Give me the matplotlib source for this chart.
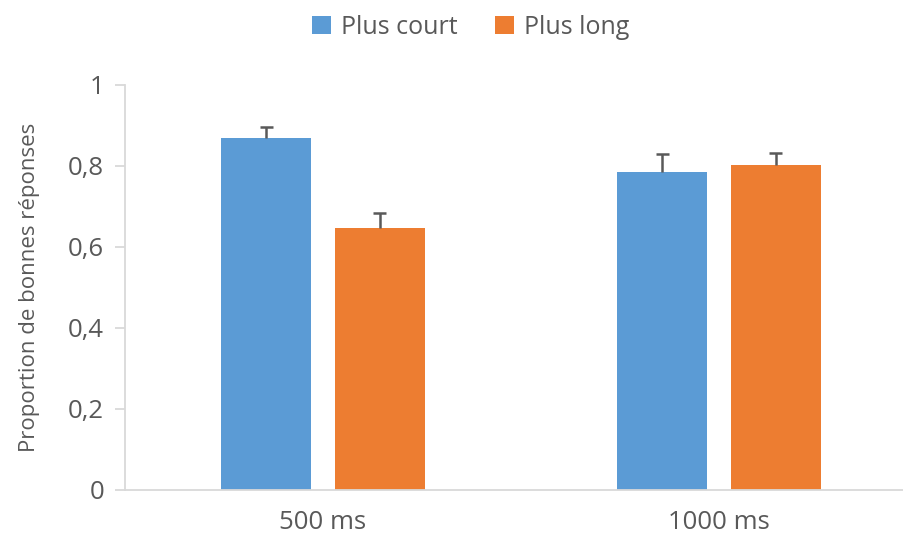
import numpy as np
import matplotlib.pyplot as plt

plt.rcParams['font.family'] = ['Open Sans', 'DejaVu Sans']

categories = ['500 ms', '1000 ms']
series = ['Plus court', 'Plus long']
court = [0.868, 0.786]
court_err = [0.029, 0.043]
long_ = [0.647, 0.801]
long_err = [0.037, 0.030]
yticks = [0, 0.2, 0.4, 0.6, 0.8, 1]
yticklabels = ['0', '0,2', '0,4', '0,6', '0,8', '1']

blue = '#5B9BD5'
orange = '#ED7D31'
txt = '#595959'
grid_c = '#D9D9D9'

fig = plt.figure(figsize=(9.04, 5.37), dpi=100)
ax = fig.add_axes([125/904, 47.5/537, 779/904, 404.5/537])

x = np.arange(len(categories))
w = 0.227
off = 0.143
cap = 0.016
ax.bar(x - off, court, w, color=blue, label=series[0], zorder=2)
ax.bar(x + off, long_, w, color=orange, label=series[1], zorder=2)

# upper-only error bars
for xs, ys, es in [(x - off, court, court_err), (x + off, long_, long_err)]:
    top = np.array(ys) + np.array(es)
    ax.vlines(xs, ys, top, color=txt, linewidth=1.8, zorder=3)
    ax.hlines(top, xs - cap, xs + cap, color=txt, linewidth=1.8, zorder=3)

ax.set_xlim(-0.5, 1.467)
ax.set_ylim(0, 1)
ax.set_yticks(yticks)
ax.set_yticklabels(yticklabels)
ax.set_xticks(x)
ax.set_xticklabels(categories)

for s in ['top', 'right']:
    ax.spines[s].set_visible(False)
for s in ['left', 'bottom']:
    ax.spines[s].set_color(grid_c)
    ax.spines[s].set_linewidth(1.3)
ax.tick_params(axis='y', colors=grid_c, labelcolor=txt, labelsize=18.5, length=7, width=1.3, pad=8)
ax.tick_params(axis='x', length=0, labelcolor=txt, labelsize=18.5, pad=15)

ax.set_ylabel('Proportion de bonnes réponses', color=txt, fontsize=16, labelpad=20)

fig.legend(loc='center', bbox_to_anchor=(471/904, 1 - 27/537), ncol=2, frameon=False,
           fontsize=18, labelcolor=txt, handlelength=0.75, handleheight=0.75,
           handletextpad=0.4, columnspacing=1.5)

plt.savefig('out.png', dpi=100)
